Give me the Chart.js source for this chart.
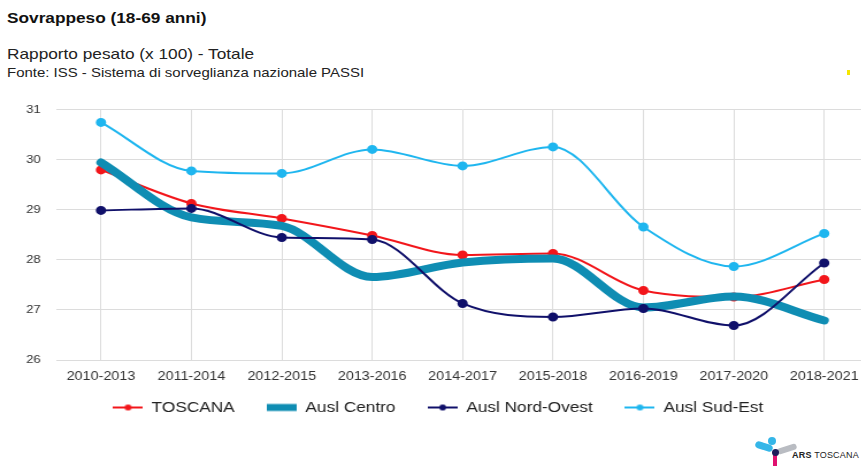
<!DOCTYPE html>
<html>
<head>
<meta charset="utf-8">
<script src="https://cdn.jsdelivr.net/npm/chart.js@4"></script>
<style>
  html, body { margin: 0; padding: 0; background: #fff; overflow: hidden; width: 861px; height: 466px; }
  body { position: relative; font-family: "Liberation Sans", Arial, sans-serif; color: #222; }
  .hd { position: absolute; left: 7px; transform: scaleX(1.15); transform-origin: 0 0; white-space: nowrap; }
  .title { top: 9px; font-size: 15px; font-weight: bold; color: #111; }
  .sub { top: 45px; font-size: 15px; color: #222; }
  .src { top: 65px; font-size: 13px; color: #222; }
  /* the source picture is stretched a little wide, so is the chart */
  .wrap { position: absolute; left: 0; top: 90px; width: 762px; height: 335px; transform: scaleX(1.15); transform-origin: 0 0; }
  .logo { position: absolute; left: 752px; top: 434px; width: 110px; height: 32px; }
  .logo .b1 { position: absolute; left: 3px; top: 9px; width: 18px; height: 7px; border-radius: 4px; background: #35b6e8; transform: rotate(18deg); }
  .logo .b2 { position: absolute; left: 25px; top: 12px; width: 20px; height: 6px; border-radius: 3px; background: #b9bcc2; transform: rotate(-18deg); }
  .logo .b3 { position: absolute; left: 16px; top: 3px; width: 8px; height: 8px; border-radius: 4px; background: #35b6e8; }
  .logo .b4 { position: absolute; left: 21px; top: 18px; width: 4px; height: 14px; background: #e0116f; }
  .logo .b5 { position: absolute; left: 20px; top: 15px; width: 7px; height: 7px; border-radius: 4px; background: #1c1c5a; }
  .logo .t { position: absolute; left: 40px; top: 16px; font-size: 9px; color: #222; letter-spacing: 0.2px; }
  .mark { position: absolute; left: 847px; top: 70px; width: 3px; height: 5px; background: #f5e600; }
</style>
</head>
<body>
<div class="hd title">Sovrappeso (18-69 anni)</div>
<div class="hd sub">Rapporto pesato (x 100) - Totale</div>
<div class="hd src">Fonte: ISS - Sistema di sorveglianza nazionale PASSI</div>
<div class="mark"></div>
<div class="wrap"><canvas id="chart"></canvas></div>
<div class="logo">
  <div class="b1"></div><div class="b2"></div><div class="b3"></div><div class="b4"></div><div class="b5"></div>
  <div class="t"><b>ARS</b> TOSCANA</div>
</div>
<script>
const periods = ["2010-2013", "2011-2014", "2012-2015", "2013-2016", "2014-2017", "2015-2018", "2016-2019", "2017-2020", "2018-2021"];
const toscana = [29.80, 29.13, 28.83, 28.49, 28.10, 28.13, 27.39, 27.26, 27.61];
const auslCentro = [29.95, 28.85, 28.68, 27.66, 27.95, 28.03, 27.05, 27.27, 26.79];
const auslNordOvest = [28.99, 29.03, 28.45, 28.41, 27.13, 26.86, 27.03, 26.69, 27.94];
const auslSudEst = [30.75, 29.78, 29.73, 30.21, 29.88, 30.26, 28.66, 27.87, 28.53];
const yTicks = [26, 27, 28, 29, 30, 31];

const red = "#f2161b";
const teal = "#0f8db3";
const navy = "#10106a";
const sky = "#1fb6ef";

// small legend markers: a line with a dot, or a thick bar
function marker(color, thick) {
    const c = document.createElement("canvas");
    c.width = 26; c.height = 10;
    const g = c.getContext("2d");
    if (thick) {
        g.fillStyle = color;
        g.fillRect(0, 1.5, 26, 7);
    } else {
        g.strokeStyle = color;
        g.lineWidth = 2;
        g.beginPath(); g.moveTo(0, 5); g.lineTo(26, 5); g.stroke();
        g.fillStyle = color;
        g.beginPath(); g.arc(13, 5, 3, 0, Math.PI * 2); g.fill();
    }
    return c;
}

// x axis is kept short so the legend sits close; give its labels room again
const xLabelRoom = {
    id: "xLabelRoom",
    afterLayout: function (chart) {
        const s = chart.scales.x;
        s.bottom = s.top + 30;
    }
};

const ctx = document.getElementById("chart");

new Chart(ctx, {
    type: "line",
    data: {
        labels: periods,
        datasets: [{
            label: "TOSCANA",
            data: toscana,
            borderColor: red,
            backgroundColor: red,
            borderWidth: 2,
            pointRadius: 3.5,
            legendMarker: marker(red, false),
            order: 3
        }, {
            label: "Ausl Centro",
            data: auslCentro,
            borderColor: teal,
            backgroundColor: teal,
            borderWidth: 8,
            pointRadius: 0,
            borderCapStyle: "round",
            borderJoinStyle: "round",
            legendMarker: marker(teal, true),
            order: 2
        }, {
            label: "Ausl Nord-Ovest",
            data: auslNordOvest,
            borderColor: navy,
            backgroundColor: navy,
            borderWidth: 2,
            pointRadius: 3.5,
            legendMarker: marker(navy, false),
            order: 1
        }, {
            label: "Ausl Sud-Est",
            data: auslSudEst,
            borderColor: sky,
            backgroundColor: sky,
            borderWidth: 2,
            pointRadius: 3.5,
            legendMarker: marker(sky, false),
            order: 0
        }]
    },
    plugins: [xLabelRoom],
    options: {
        responsive: true,
        maintainAspectRatio: false,
        animation: false,
        cubicInterpolationMode: "monotone",
        layout: { padding: { top: 9, right: 0, bottom: 0, left: 0 } },
        plugins: {
            tooltip: { enabled: false },
            legend: {
                position: "bottom",
                labels: {
                    usePointStyle: true,
                    pointStyleWidth: 26,
                    color: "#222",
                    font: { family: "Liberation Sans", size: 15 },
                    padding: 28,
                    generateLabels: function (chart) {
                        return chart.data.datasets.map(function (ds, i) {
                            return {
                                text: ds.label,
                                pointStyle: ds.legendMarker,
                                fontColor: "#222",
                                hidden: false,
                                datasetIndex: i
                            };
                        });
                    }
                }
            }
        },
        scales: {
            x: {
                offset: true,
                grid: { offset: false, color: "#dcdcdc", drawTicks: false },
                border: { display: false },
                ticks: { color: "#333", padding: 9, maxRotation: 0, autoSkip: false, font: { family: "Liberation Sans", size: 12.5 } },
                afterFit: function (scale) { scale.height = 12; }
            },
            y: {
                min: 26,
                max: 31,
                afterBuildTicks: function (scale) {
                    scale.ticks = yTicks.map(v => ({ value: v }));
                },
                afterFit: function (scale) { scale.width = 48.5; },
                grid: { color: "#dcdcdc", drawTicks: false },
                border: { display: false },
                ticks: { color: "#333", padding: 13, font: { family: "Liberation Sans", size: 11.5 } }
            }
        }
    }
});
</script>
</body>
</html>
